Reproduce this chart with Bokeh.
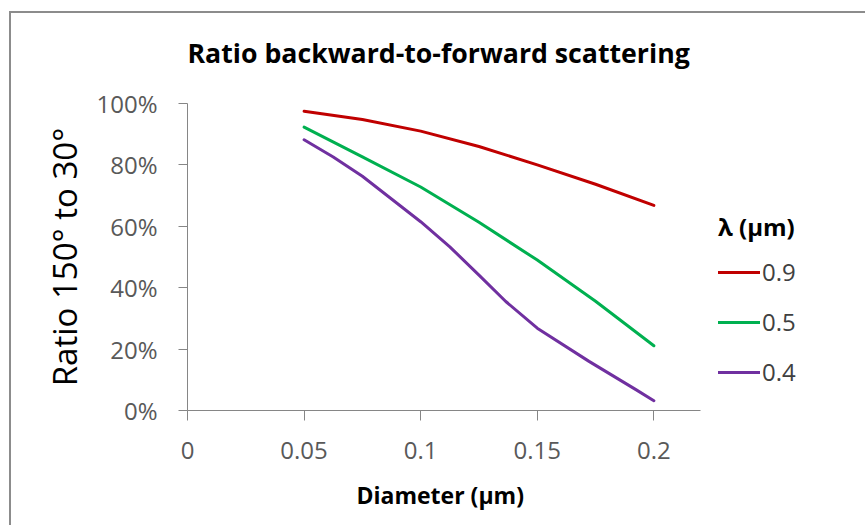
from bokeh.plotting import figure
from bokeh.models import Range1d, FixedTicker, Legend, LegendItem, Title
from bokeh.embed import file_html
from bokeh.resources import INLINE

# Data
diameter_09 = [0.05, 0.075, 0.1, 0.125, 0.15, 0.175, 0.2]
ratio_09 = [0.975, 0.948, 0.910, 0.860, 0.800, 0.737, 0.668]
diameter_05 = [0.05, 0.075, 0.1, 0.125, 0.15, 0.175, 0.2]
ratio_05 = [0.923, 0.826, 0.728, 0.613, 0.490, 0.356, 0.211]
diameter_04 = [0.05, 0.0625, 0.075, 0.1, 0.1125, 0.125, 0.1365, 0.15, 0.1722, 0.1923, 0.2]
ratio_04 = [0.882, 0.826, 0.763, 0.615, 0.533, 0.441, 0.355, 0.268, 0.160, 0.068, 0.032]
series_labels = ["0.9", "0.5", "0.4"]
series_colors = ["#C00000", "#00B050", "#7030A0"]

x_ticks = [0, 0.05, 0.1, 0.15, 0.2]
x_tick_labels = ["0", "0.05", "0.1", "0.15", "0.2"]
x_axis_end = 0.22
y_ticks = [0, 0.2, 0.4, 0.6, 0.8, 1.0]
y_tick_labels = ["0%", "20%", "40%", "60%", "80%", "100%"]

FONT = "Open Sans"
W, H = 856, 524
LEFT, TOP, BOTTOM = 178, 102, 114
AXIS_PX = 513  # pixel length of the drawn x axis (0 .. 0.22)
x_view_end = x_axis_end * (W - LEFT) / AXIS_PX

frame_css = {
    "margin-left": "9px", "margin-top": "1px",
    "background-image": "linear-gradient(#8c8c8c, #8c8c8c), linear-gradient(#8c8c8c, #8c8c8c)",
    "background-size": "2px 100%, 100% 2px",
    "background-position": "0px 10px, 0px 10px",
    "background-repeat": "no-repeat",
}

p = figure(
    width=W, height=H,
    output_backend="svg", toolbar_location=None,
    x_range=Range1d(0, x_view_end), y_range=Range1d(0, 1.0),
    min_border_left=LEFT, min_border_right=0,
    min_border_top=TOP, min_border_bottom=BOTTOM,
    styles=frame_css,
)
p.border_fill_color = None
p.outline_line_color = None
p.xgrid.visible = False
p.ygrid.visible = False

title = Title(text="Ratio backward-to-forward scattering", align="left", offset=0,
              vertical_align="top",
              text_font=FONT, text_font_size="26.7px", text_font_style="bold",
              text_color="#000000", standoff=62)
p.add_layout(title, "above")

xs = [diameter_09, diameter_05, diameter_04]
ys = [ratio_09, ratio_05, ratio_04]
renderers = []
for xv, yv, c in zip(xs, ys, series_colors):
    r = p.line(xv, yv, line_color=c, line_width=3, line_join="round", line_cap="round")
    renderers.append(r)

axis_color = "#868686"
for ax in (p.xaxis[0], p.yaxis[0]):
    ax.axis_line_color = axis_color
    ax.major_tick_line_color = axis_color
    ax.minor_tick_line_color = None
    ax.major_tick_in = 0
    ax.major_label_text_font = FONT
    ax.major_label_text_font_size = "24px"
    ax.major_label_text_color = "#595959"
    ax.axis_label_text_font = FONT

p.xaxis.bounds = (0, x_axis_end)
p.xaxis.ticker = FixedTicker(ticks=x_ticks)
p.xaxis.major_label_overrides = {t: l for t, l in zip(x_ticks, x_tick_labels)}
p.xaxis.major_tick_out = 10
p.xaxis.major_label_standoff = 21

xlabel = Title(text="Diameter (µm)", align="left", offset=169,
               text_font=FONT, text_font_size="23px", text_font_style="bold",
               text_color="#000000", standoff=30)
p.add_layout(xlabel, "below")

p.yaxis.ticker = FixedTicker(ticks=y_ticks)
p.yaxis.major_label_overrides = {t: l for t, l in zip(y_ticks, y_tick_labels)}
p.yaxis.major_tick_out = 9
p.yaxis.major_label_standoff = 21
p.yaxis.axis_label = "Ratio 150° to 30°"
p.yaxis.axis_label_text_font_size = "33px"
p.yaxis.axis_label_text_font_style = "normal"
p.yaxis.axis_label_text_color = "#000000"
p.yaxis.axis_label_standoff = 6

legend = Legend(
    items=[LegendItem(label=l, renderers=[r]) for l, r in zip(series_labels, renderers)],
    title="λ (µm)", location=(531, 22),
    title_text_font=FONT, title_text_font_size="24px", title_text_font_style="bold",
    title_text_color="#000000", title_standoff=12,
    label_text_font=FONT, label_text_font_size="24px", label_text_color="#404040",
    glyph_width=42, glyph_height=22, label_height=22, label_standoff=2,
    spacing=17, padding=0, margin=0,
    background_fill_alpha=0, border_line_alpha=0,
)
p.add_layout(legend, "center")

open("out.html", "w").write(file_html(p, INLINE))
